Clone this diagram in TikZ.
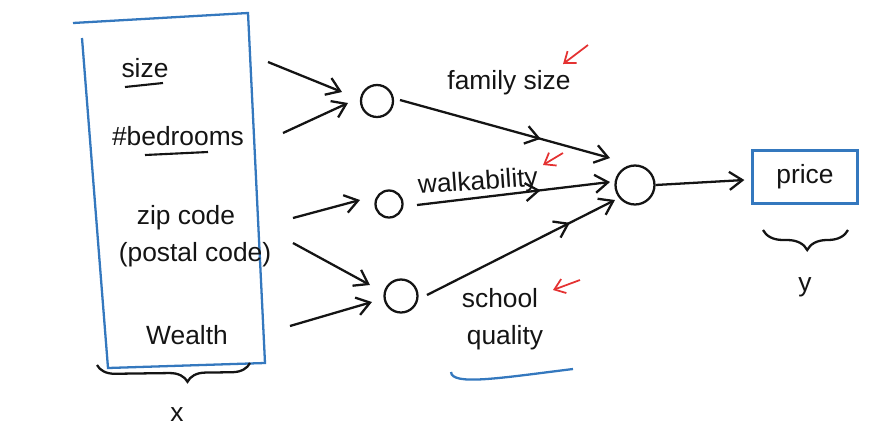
\documentclass[tikz,border=0pt]{standalone}
\usepackage{fontspec}
\setmainfont{Liberation Sans}
\usetikzlibrary{arrows.meta,calc,decorations.pathreplacing,decorations.markings}
\definecolor{penblue}{RGB}{52,120,190}
\definecolor{penred}{RGB}{228,50,50}
\definecolor{ink}{RGB}{20,20,20}
\tikzset{
  hand/.style={font=\fontsize{15}{18}\selectfont, text=ink},
  neuron/.style={circle, draw=ink, line width=1.3pt, inner sep=0pt},
  arr/.style={draw=ink, line width=1.3pt, -{Straight Barb[length=2.6mm,width=3.6mm]}},
  midarr/.style={postaction={decorate}, decoration={markings, mark=at position #1 with {\arrow{Straight Barb[length=2.6mm,width=3.6mm]}}}},
  redarr/.style={draw=penred, line width=1pt, -{Straight Barb[length=2mm,width=3mm]}},
  blueline/.style={draw=penblue, line width=1.3pt},
  uline/.style={draw=ink, line width=1.2pt},
  bracestyle/.style={draw=ink, line width=1.3pt, decorate},
}
\begin{document}
\begin{tikzpicture}[x=0.02cm, y=-0.02cm]
\useasboundingbox (0,0) rectangle (894,444);
% input box
\draw[blueline] (73,23) -- (248,13) -- (265,363) -- (108,368) -- (82,38);
% inputs
\node[hand] (size) at (145,68) {size};
\node[hand] (bed) at (178,136) {\#bedrooms};
\node[hand] (zip) at (186,218) {zip code};
\node[hand] (postal) at (195,255) {(postal code)};
\node[hand] (wealth) at (187,335) {Wealth};
\draw[uline] (125,87) -- (163,83);
\draw[uline] (145,155) -- (208,152);
% brace x
\draw[bracestyle, decoration={brace, mirror, amplitude=0.36cm, aspect=0.59}] (97,365) -- (250,363);
\node[hand] (xl) at (177,415) {x};
% hidden units
\node[neuron, minimum width=0.64cm, minimum height=0.56cm] (h1) at (377,101) {};
\node[neuron, minimum size=0.54cm] (h2) at (389,204) {};
\node[neuron, minimum size=0.66cm] (h3) at (401,296) {};
\node[neuron, minimum width=0.78cm, minimum height=0.72cm] (out) at (635,185) {};
% output box
\node[draw=penblue, line width=1.3pt, minimum width=2.1cm, minimum height=1.06cm, hand] (price) at (805,177) {price};
% input arrows
\coordinate (a1) at (268,62);
\coordinate (a2) at (283,133);
\coordinate (a3) at (293,218);
\coordinate (a4) at (293,243);
\coordinate (a5) at (290,326);
\draw[arr] (a1) -- ($(h1)+(-35,-9)$);
\draw[arr] (a2) -- ($(h1)+(-29,2)$);
\draw[arr] (a3) -- ($(h2)+(-29,-4)$);
\draw[arr] (a4) -- ($(h3)+(-31,-11)$);
\draw[arr] (a5) -- ($(h3)+(-29,6)$);
% hidden to output
\draw[arr, midarr=0.67] ($(h1)+(23,-1)$) -- ($(out)+(-25,-27)$);
\draw[arr, midarr=0.64] ($(h2)+(28,1)$) -- ($(out)+(-25,-3)$);
\draw[arr, midarr=0.76] ($(h3)+(26,-1)$) -- ($(out)+(-20,15)$);
\draw[arr] (out.east) -- ($(price.west)+(-7,3)$);
% labels
\node[hand] (fam) at (509,83) {family size};
\node[hand, rotate=4] (walk) at (478,183) {walkability};
\node[hand] (school) at (500,298) {school};
\node[hand] (qual) at (505,338) {quality};
% red arrows
\coordinate (r1s) at (588,45); \coordinate (r1e) at (563,64);
\coordinate (r2s) at (563,153); \coordinate (r2e) at (543,165);
\coordinate (r3s) at (580,280); \coordinate (r3e) at (553,290);
\draw[redarr] (r1s) -- (r1e);
\draw[redarr] (r2s) -- (r2e);
\draw[redarr] (r3s) -- (r3e);
% blue underline
\coordinate (bl1) at (451,372);
\coordinate (bl2) at (573,369);
\draw[blueline] (bl1) .. controls (452,386) and (500,378) .. (bl2);
% brace y
\draw[bracestyle, decoration={brace, mirror, amplitude=0.4cm, aspect=0.52}] (763,230) -- (848,230);
\node[hand] (yl) at (805,287) {y};
\end{tikzpicture}
\end{document}
